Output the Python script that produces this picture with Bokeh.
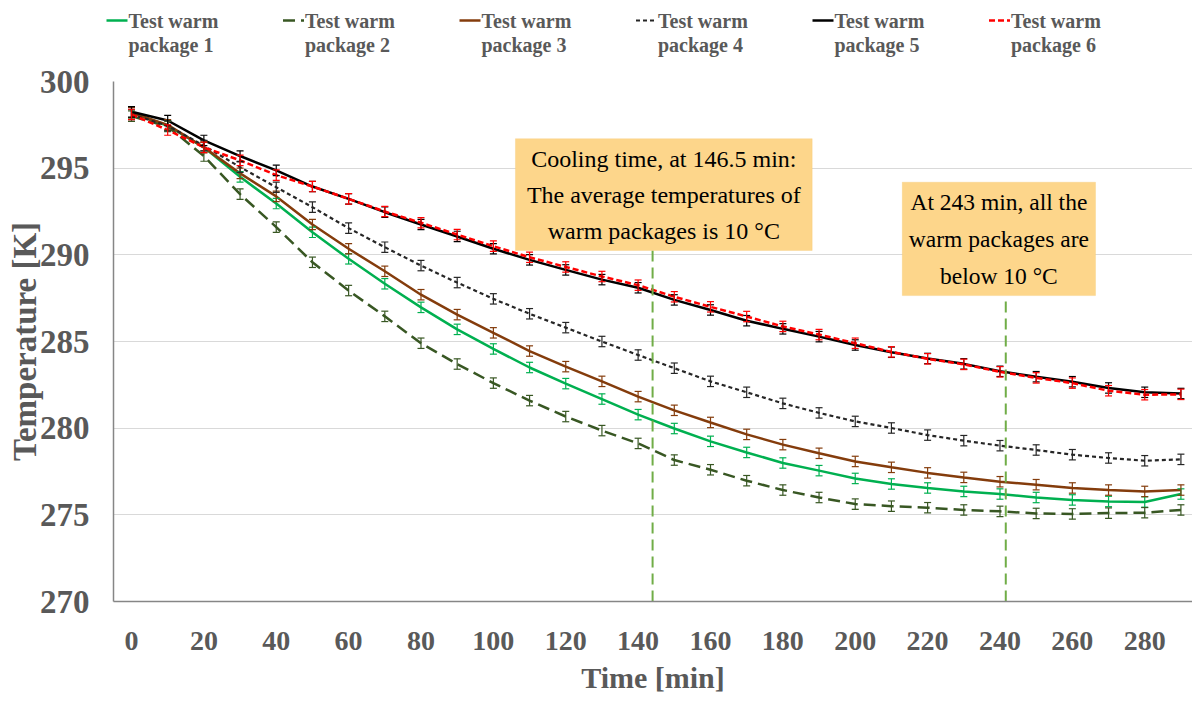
from bokeh.plotting import figure
from bokeh.layouts import column
from bokeh.models import (ColumnDataSource, Whisker, TeeHead, BoxAnnotation, Label,
                          FixedTicker)
from bokeh.core.properties import value
from bokeh.embed import file_html
from bokeh.resources import INLINE

# ---------------- data ----------------
time_min = [0, 10, 20, 30, 40, 50, 60, 70, 80, 90, 100, 110, 120, 130, 140,
            150, 160, 170, 180, 190, 200, 210, 220, 230, 240, 250, 260, 270, 280, 290]

pkg1 = [298.2, 297.45, 296.2, 294.5, 292.96, 291.3, 289.77, 288.33, 286.97, 285.7,
        284.57, 283.5, 282.57, 281.68, 280.78, 279.98, 279.24, 278.6, 277.99, 277.55,
        277.1, 276.78, 276.55, 276.35, 276.2, 276.0, 275.86, 275.77, 275.74, 276.2]
pkg2 = [298.0, 297.4, 295.7, 293.5, 291.6, 289.57, 287.94, 286.45, 284.9, 283.7,
        282.6, 281.59, 280.67, 279.86, 279.12, 278.16, 277.6, 276.97, 276.43, 276.0,
        275.62, 275.5, 275.41, 275.28, 275.2, 275.08, 275.05, 275.1, 275.12, 275.28]
pkg3 = [298.2, 297.5, 296.2, 294.7, 293.37, 291.75, 290.35, 289.05, 287.7, 286.55,
        285.5, 284.45, 283.55, 282.7, 281.82, 281.03, 280.33, 279.64, 279.05, 278.55,
        278.08, 277.74, 277.42, 277.16, 276.91, 276.74, 276.55, 276.43, 276.35, 276.43]
pkg4 = [298.1, 297.45, 296.3, 295.06, 293.9, 292.75, 291.54, 290.44, 289.38, 288.4,
        287.46, 286.6, 285.8, 285.0, 284.22, 283.46, 282.7, 282.07, 281.43, 280.88,
        280.39, 280.01, 279.6, 279.28, 278.99, 278.74, 278.47, 278.28, 278.12, 278.2]
pkg5 = [298.25, 297.75, 296.6, 295.7, 294.87, 293.94, 293.23, 292.46, 291.75, 291.06,
        290.35, 289.71, 289.13, 288.57, 288.1, 287.4, 286.82, 286.2, 285.73, 285.28,
        284.8, 284.38, 284.02, 283.71, 283.28, 282.97, 282.68, 282.32, 282.07, 282.0]
pkg6 = [298.1, 297.2, 296.2, 295.45, 294.6, 293.94, 293.23, 292.5, 291.85, 291.17,
        290.5, 289.86, 289.3, 288.75, 288.25, 287.58, 287.0, 286.44, 285.87, 285.4,
        284.9, 284.4, 284.0, 283.68, 283.25, 282.9, 282.6, 282.16, 281.93, 281.95]

err_pkg = [0.3, 0.3, 0.3, 0.3, 0.3, 0.3]   # +/- error per package (K)

series_names = ["Test warm\npackage 1", "Test warm\npackage 2", "Test warm\npackage 3",
                "Test warm\npackage 4", "Test warm\npackage 5", "Test warm\npackage 6"]

x_ticks = [0, 20, 40, 60, 80, 100, 120, 140, 160, 180, 200, 220, 240, 260, 280]
y_ticks = [270, 275, 280, 285, 290, 295, 300]

# marker lines (time positions as drawn) and the box each one reaches
marker_times = [144.0, 241.6]
marker_tops = [290.25, 287.65]
note1 = "Cooling time, at 146.5 min:\nThe average temperatures of\nwarm packages is 10 \u00b0C"
note2 = "At 243 min, all the\nwarm packages are\nbelow 10 \u00b0C"

# ---------------- styles ----------------
colors = ["#00B050", "#385723", "#843C0C", "#262626", "#000000", "#FF0000"]
dashes = ["solid", "12 6", "solid", "4 3", "solid", "6 3"]
widths = [2.5, 2.5, 2.5, 2.2, 2.5, 2.5]
SERIF = "Liberation Serif"
GREY = "#595959"
LEG_H = 60

# ---------------- main chart ----------------
p = figure(width=1192, height=707 - LEG_H, output_backend="svg", toolbar_location=None,
           x_range=(-4.975, 293.2), y_range=(270, 300),
           min_border_left=113, min_border_right=0, min_border_top=81 - LEG_H,
           min_border_bottom=106)
p.frame_align = False
p.outline_line_color = None
p.background_fill_color = "white"
p.border_fill_color = "white"
p.xgrid.grid_line_color = None
p.ygrid.grid_line_color = "#D9D9D9"
p.ygrid.grid_line_width = 1

p.xaxis.ticker = FixedTicker(ticks=x_ticks)
p.yaxis.ticker = FixedTicker(ticks=y_ticks)
for ax in (p.xaxis, p.yaxis):
    ax.axis_line_color = "#868686"
    ax.axis_line_width = 1.5
    ax.major_tick_line_color = None
    ax.minor_tick_line_color = None
    ax.major_label_text_font = SERIF
    ax.major_label_text_font_style = "bold"
    ax.major_label_text_color = GREY
    ax.axis_label_text_font = SERIF
    ax.axis_label_text_font_style = "bold"
    ax.axis_label_text_color = GREY
p.xaxis.major_label_text_font_size = "28px"
p.yaxis.major_label_text_font_size = "33px"
p.xaxis.major_label_standoff = 24
p.yaxis.major_label_standoff = 18

p.yaxis.axis_label = "Temperature [K]"
p.yaxis.axis_label_text_font_size = "33px"
p.yaxis.axis_label_standoff = -6
p.xaxis.axis_label = "Time [min]"
p.xaxis.axis_label_text_font_size = "30px"
p.xaxis.axis_label_standoff = 8

series = [pkg1, pkg2, pkg3, pkg4, pkg5, pkg6]
for i, vals in enumerate(series):
    up = [v + err_pkg[i] for v in vals]
    lo = [v - err_pkg[i] for v in vals]
    src = ColumnDataSource(dict(x=time_min, y=vals, upper=up, lower=lo))
    p.line("x", "y", source=src, line_color=colors[i], line_width=widths[i],
           line_dash=dashes[i])
    w = Whisker(source=src, base="x", upper="upper", lower="lower",
                line_color=colors[i], line_width=1.2, level="glyph",
                upper_head=TeeHead(size=7, line_color=colors[i], line_width=1.2),
                lower_head=TeeHead(size=7, line_color=colors[i], line_width=1.2))
    p.add_layout(w)

# vertical marker lines
msrc = ColumnDataSource(dict(x=marker_times, y0=[270, 270], y1=marker_tops))
p.segment(x0="x", y0="y0", x1="x", y1="y1", source=msrc, line_color="#70AD47",
          line_width=2, line_dash="11 6")

# annotation boxes
p.add_layout(BoxAnnotation(left=106.1, right=188.1, bottom=290.25, top=296.7,
                           fill_color="#FDD68B", fill_alpha=1.0,
                           line_color="#F4C76E", line_width=1, level="overlay"))
p.add_layout(BoxAnnotation(left=213.0, right=266.4, bottom=287.65, top=294.19,
                           fill_color="#FDD68B", fill_alpha=1.0,
                           line_color="#F4C76E", line_width=1, level="overlay"))
p.add_layout(Label(x=147.1, y=293.45, text=note1, text_align="center",
                   text_baseline="middle", text_font=SERIF, text_font_size="24px",
                   text_color="black", text_line_height=1.4, level="overlay"))
p.add_layout(Label(x=239.7, y=290.9, text=note2, text_align="center",
                   text_baseline="middle", text_font=SERIF, text_font_size="23.5px",
                   text_color="black", text_line_height=1.42, level="overlay"))

# ---------------- legend strip (pixel-coordinate strip above the chart) ----------------
lf = figure(width=1192, height=LEG_H, output_backend="svg", toolbar_location=None,
            x_range=(0, 1192), y_range=(LEG_H, 0), x_axis_type=None, y_axis_type=None,
            min_border=0)
lf.frame_align = False
lf.outline_line_color = None
lf.grid.grid_line_color = None
lf.border_fill_color = "white"
lf.background_fill_color = "white"
LEG_X0, LEG_STEP, SYM_W = 128, 176.5, 21
for i in range(len(series)):
    tx = LEG_X0 + i * LEG_STEP
    lf.line(x=[tx - SYM_W - 1, tx - 1], y=[20, 20], line_color=colors[i],
            line_width=widths[i], line_dash=dashes[i])
    lf.text(x=[tx], y=[9], text=[series_names[i]], text_font=value(SERIF),
            text_font_style="bold", text_font_size="20px", text_color=GREY,
            text_align="left", text_baseline="top", text_line_height=1.1)

layout = column(lf, p, spacing=0)
open("out.html", "w").write(file_html(layout, INLINE))
